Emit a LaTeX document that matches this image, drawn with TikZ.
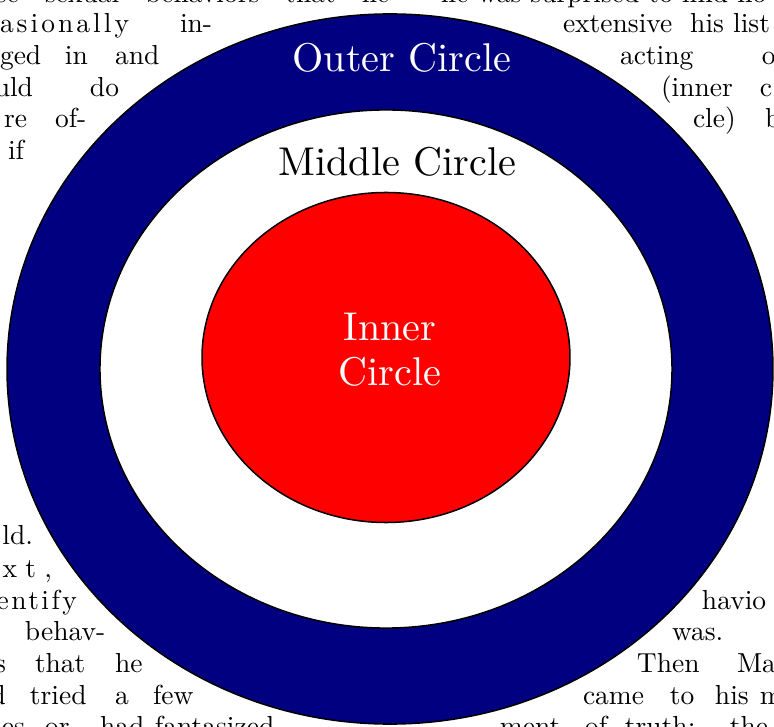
\documentclass[tikz,border=0pt]{standalone}
\usepackage{fontspec}
\setmainfont{Latin Modern Roman}
\newfontfamily\lmten{lmroman10-regular.otf}
\usetikzlibrary{shapes.geometric}
\definecolor{navyblue}{RGB}{0,0,128}
\begin{document}
\begin{tikzpicture}[x=0.3636pt,y=-0.3636pt,
  txt/.style={anchor=base west,inner sep=0pt,outer sep=0pt,font=\fontsize{10}{12}\selectfont},
  txte/.style={anchor=base east,inner sep=0pt,outer sep=0pt,font=\fontsize{10}{12}\selectfont},
  lbl/.style={inner sep=0pt,anchor=base,font=\lmten\fontsize{14.6}{17}\selectfont},
  ring/.style={ellipse,draw=black,line width=0.55pt,inner sep=0pt}]
\useasboundingbox (0,0) rectangle (774,727);
\clip (0,0) rectangle (774,727);
\fill[white] (0,0) rectangle (774,727);
% ---- body text, top left
\node[txt] (t0l) at (-4,3) {\makebox[143pt][s]{se sexual behaviors that he}};
\node[txt] (t0r) at (441,3) {he was surprised to find ho};
\node[txt] (t1a) at (0,33) {\addfontfeature{LetterSpace=11}asionally};
\node[txt] (t1b) at (180,33) {in-};
\node[txt] (t2a) at (0,65) {ged};
\node[txt] (t2b) at (65,65) {in};
\node[txt] (t2c) at (115,65) {and};
\node[txte] (t3a) at (33,97) {uld};
\node[txt] (t3b) at (90,97) {do};
\node[txte] (t4a) at (27,128) {re};
\node[txt] (t4b) at (55,128) {of-};
\node[txt] (t5a) at (8,160) {if};
% ---- top right
\node[txt] (r1a) at (563,33) {extensive};
\node[txte] (r1b) at (770,33) {his list};
\node[txt] (r2a) at (620,65) {acting};
\node[txt] (r2b) at (762,65) {o};
\node[txt] (r3a) at (661,97) {(inner};
\node[txt] (r3b) at (760,97) {c};
\node[txt] (r4a) at (693,128) {cle)};
\node[txt] (r4b) at (765,128) {b};
% ---- bottom left
\node[txte] (b1a) at (33,545) {ld.};
\node[txte] (b2a) at (52,578) {\addfontfeature{LetterSpace=30}ext,};
\node[txte] (b3a) at (77,610) {\addfontfeature{LetterSpace=9}entify};
\node[txt] (b4a) at (25,641) {behav-};
\node[txte] (b5a) at (6,673) {s};
\node[txt] (b5b) at (35,673) {that};
\node[txt] (b5c) at (115,673) {he};
\node[txte] (b6a) at (6,705) {d};
\node[txt] (b6b) at (30,705) {tried};
\node[txt] (b6c) at (115,705) {a};
\node[txt] (b6d) at (153,705) {few};
\node[txte] (b7a) at (25,736) {ies};
\node[txt] (b7b) at (45,736) {or};
\node[txt] (b7c) at (100,736) {had};
\node[txt] (b7d) at (155,736) {fantasized};
% ---- bottom right
\node[txt] (s1a) at (702,610) {havio};
\node[txt] (s2a) at (672,641) {was.};
\node[txt] (s3a) at (637,673) {Then};
\node[txt] (s3b) at (737,673) {Ma};
\node[txt] (s4a) at (583,705) {came};
\node[txt] (s4b) at (670,705) {to};
\node[txt] (s4c) at (715,705) {his};
\node[txt] (s4d) at (760,705) {m};
\node[txt] (s5a) at (500,736) {ment};
\node[txt] (s5b) at (585,736) {of};
\node[txt] (s5c) at (625,736) {truth;};
\node[txt] (s5d) at (730,736) {the};
% ---- circles
\node[ring,fill=navyblue,minimum width=278.5pt,minimum height=258.2pt] (outer) at (390,369) {};
\node[ring,fill=white,minimum width=208pt,minimum height=188.4pt] (middle) at (386,369) {};
\node[ring,fill=red,minimum width=133.8pt,minimum height=120pt] (inner) at (386,357.5) {};
% ---- labels
\node[lbl,text=white] (louter) at (402,72) {Outer Circle};
\node[lbl,text=black] (lmiddle) at (397.5,176) {Middle Circle};
\node[lbl,text=white] (linner1) at (390,341) {Inner};
\node[lbl,text=white] (linner2) at (390,386) {Circle};
\end{tikzpicture}
\end{document}
